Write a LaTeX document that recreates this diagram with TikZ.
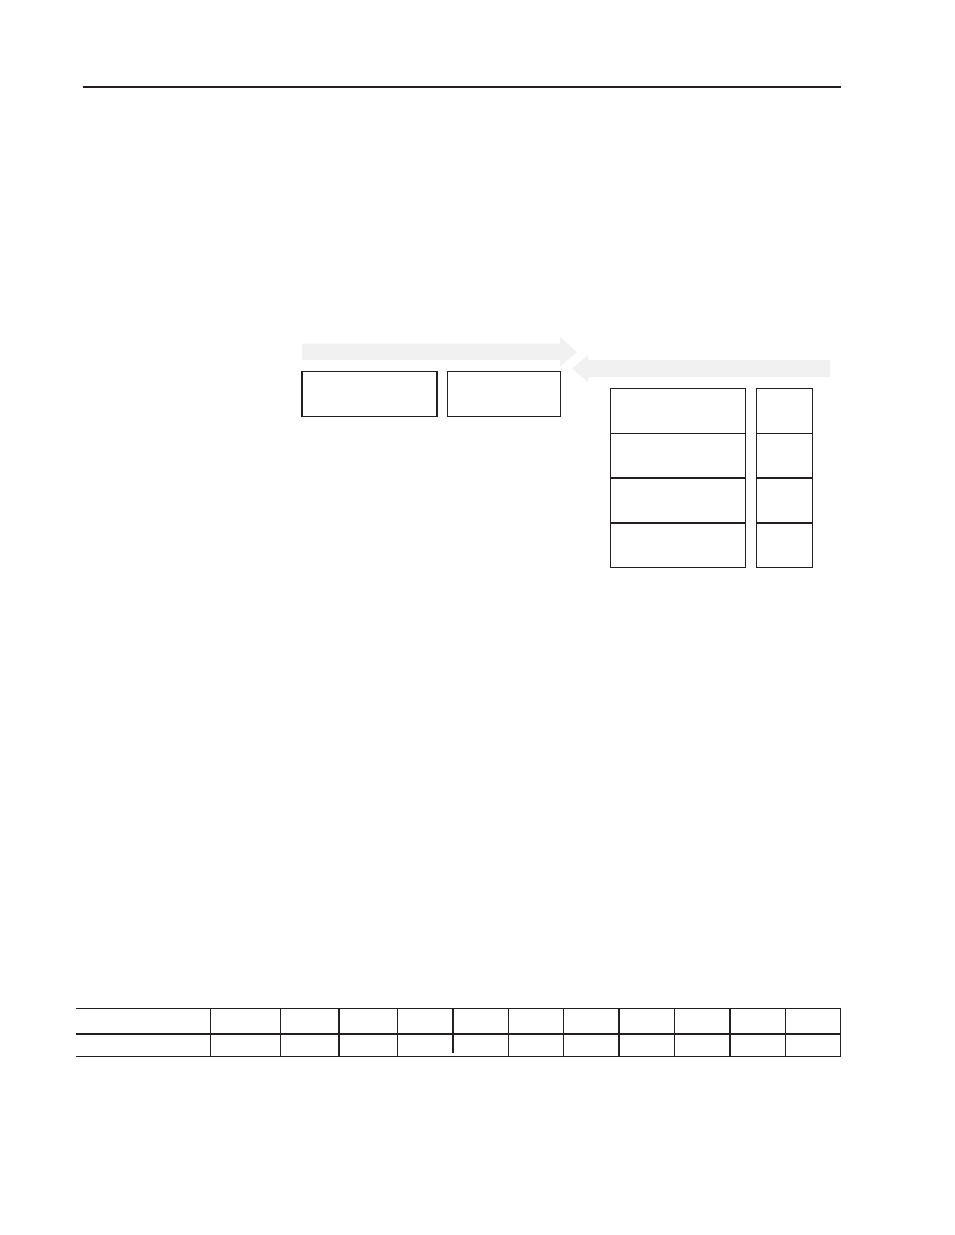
\documentclass[tikz,border=0pt]{standalone}
\usetikzlibrary{positioning}
\definecolor{arrowgray}{RGB}{241,241,241}
\definecolor{inkblack}{RGB}{35,31,32}
\begin{document}
\begin{tikzpicture}[x=1pt,y=-1pt,
  cellbox/.style={draw=inkblack,line width=1.5pt,inner sep=0pt,outer sep=0pt,anchor=north west},
  flowarrow/.style={fill=arrowgray,draw=none},
  rule/.style={draw=inkblack,line width=1.8pt},
  thinrule/.style={draw=inkblack,line width=1pt},
  thickrule/.style={draw=inkblack,line width=2pt}]
\useasboundingbox (0,0) rectangle (954,1235);
% header rule
\coordinate (hl) at (83.3,87);
\coordinate (hr) at (840.7,87);
\draw[rule] (hl) -- (hr);
% arrows
\fill[flowarrow] (302,343.5) -- (560,343.5) -- (560,337) -- (577,352) -- (560,366.5) -- (560,360) -- (302,360) -- cycle;
\fill[flowarrow] (830,360) -- (588,360) -- (588,355) -- (572,368.5) -- (588,382) -- (588,377) -- (830,377) -- cycle;
% left boxes
\node[cellbox,minimum width=135pt,minimum height=45.4pt] (b1) at (302,371.3) {};
\node[cellbox,minimum width=112.8pt,minimum height=45.4pt] (b2) at (447.5,371.3) {};
% right column
\foreach \i/\ya/\yb in {1/388.7/433.5,2/433.5/478,3/478/523,4/523/567.7}{
  \pgfmathsetmacro{\hh}{\yb-\ya}
  \node[cellbox,minimum width=134.6pt,minimum height=\hh pt] (r\i) at (610.7,\ya) {};
  \node[cellbox,minimum width=56pt,minimum height=\hh pt] (s\i) at (756.7,\ya) {};
}
% bottom table
\draw[thinrule] (76,1008.3) -- (840.5,1008.3);
\draw[thickrule] (76,1033.7) -- (840.5,1033.7);
\draw[thinrule] (76,1056) -- (840.5,1056);
\foreach \x in {210.7,280.3,397.7,508.7,563.7,674.3,785,840}{
  \draw[thinrule] (\x,1008.3) -- (\x,1056);
}
\foreach \x in {338.7,619,729.7}{
  \draw[thickrule] (\x,1008.3) -- (\x,1056);
}
\draw[thickrule] (453,1008.3) -- (453,1053);
\end{tikzpicture}
\end{document}
